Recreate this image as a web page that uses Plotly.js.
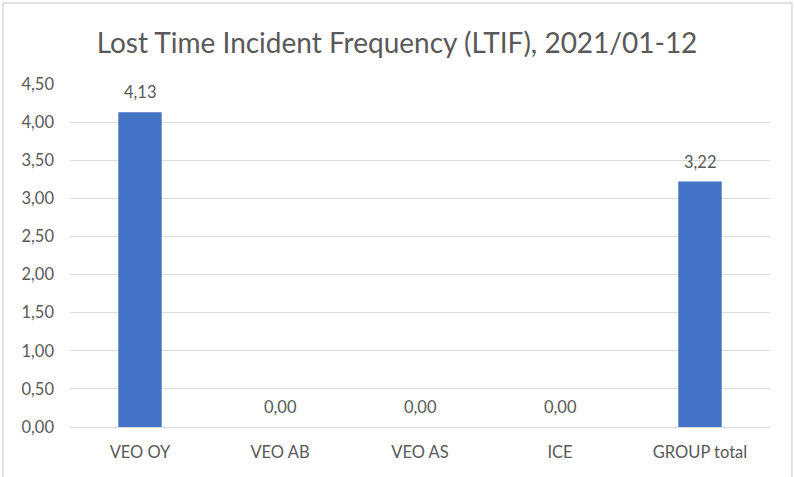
<!DOCTYPE html>
<html><head><meta charset="utf-8">
<script src="https://cdn.plot.ly/plotly-3.0.1.min.js"></script>
<style>html,body{margin:0;padding:0;background:#fff}#c{width:794px;height:477px}</style>
</head><body><div id="c"></div>
<script>
const categories = ["VEO OY", "VEO AB", "VEO AS", "ICE", "GROUP total"];
const ltif = [4.13, 0.00, 0.00, 0.00, 3.22];
const yTicks = [0, 0.5, 1, 1.5, 2, 2.5, 3, 3.5, 4, 4.5];

const fontFam = "Lato, 'Open Sans', sans-serif";
const txtColor = "#595959";
const trace = {
  type: "bar", x: categories, y: ltif,
  marker: {color: "#4472C4"},
  hoverinfo: "skip"
};
const annotations = categories.map((c, i) => ({
  x: c, y: ltif[i], xref: "x", yref: "y",
  text: ltif[i].toFixed(2).replace(".", ","),
  showarrow: false, yanchor: "bottom", yshift: 8,
  font: {family: fontFam, size: 16.5, color: txtColor}
}));
const layout = {
  width: 794, height: 477,
  margin: {l: 70, r: 24, t: 84, b: 50},
  separators: ", ",
  paper_bgcolor: "#fff", plot_bgcolor: "#fff",
  title: {text: "Lost Time Incident Frequency (LTIF), 2021/01-12", x: 0.5, xanchor: "center", y: 0.91, yanchor: "middle",
          font: {family: fontFam, size: 28, color: txtColor}},
  bargap: 0.69,
  showlegend: false,
  annotations: annotations,
  xaxis: {showgrid: false, showline: false, zeroline: false, ticks: "", ticklabelstandoff: 13,
          tickfont: {family: fontFam, size: 16.5, color: txtColor}},
  yaxis: {range: [0, 4.5], tickvals: yTicks, tickformat: ".2f", showgrid: true, gridcolor: "#D9D9D9", gridwidth: 1,
          zeroline: true, zerolinecolor: "#D9D9D9", zerolinewidth: 1, showline: false, ticks: "", ticklen: 0,
          ticklabelstandoff: 15,
          tickfont: {family: fontFam, size: 16.5, color: txtColor}},
  shapes: [{type: "rect", xref: "paper", yref: "paper", x0: -0.0957, x1: 1.0314, y0: -0.3, y1: 1.236,
            line: {color: "#D9D9D9", width: 1.5}, fillcolor: "rgba(0,0,0,0)", layer: "below"}]
};
Plotly.newPlot("c", [trace], layout, {staticPlot: true, displayModeBar: false});
</script></body></html>
